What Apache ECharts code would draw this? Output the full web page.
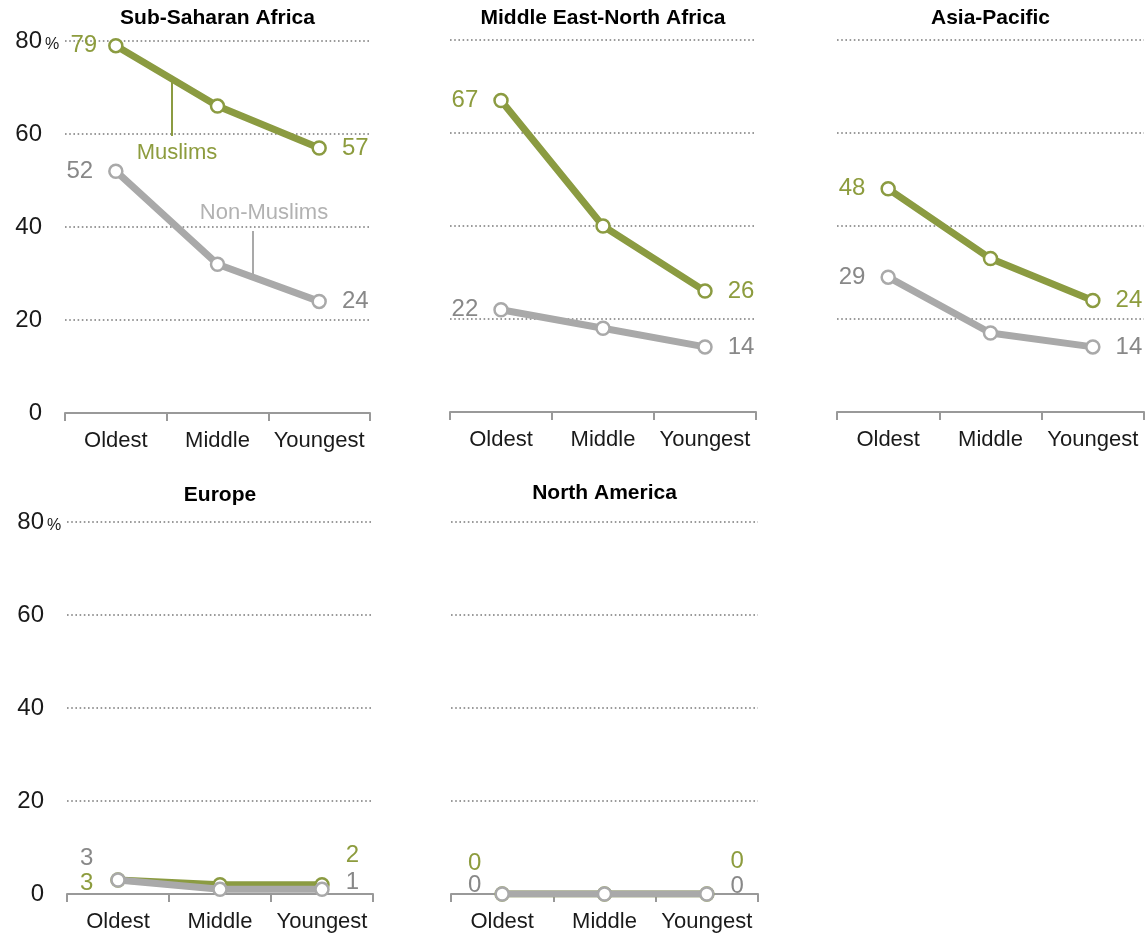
<!DOCTYPE html>
<html>
<head>
<meta charset="utf-8">
<script src="https://cdn.jsdelivr.net/npm/echarts@6/dist/echarts.min.js"></script>
<style>
    html, body { margin: 0; padding: 0; background: #ffffff; }
    #chart { width: 1145px; height: 938px; }
</style>
</head>
<body>
<div id="chart"></div>
<script>
// categories and values
const ageGroups = ['Oldest', 'Middle', 'Youngest'];
const regions = ['Sub-Saharan Africa', 'Middle East-North Africa', 'Asia-Pacific', 'Europe', 'North America'];
const yTicks = [0, 20, 40, 60, 80];

const muslimsSubSaharan = [79, 66, 57];
const nonMuslimsSubSaharan = [52, 32, 24];
const muslimsMena = [67, 40, 26];
const nonMuslimsMena = [22, 18, 14];
const muslimsAsia = [48, 33, 24];
const nonMuslimsAsia = [29, 17, 14];
const muslimsEurope = [3, 2, 2];
const nonMuslimsEurope = [3, 1, 1];
const muslimsNorthAmerica = [0, 0, 0];
const nonMuslimsNorthAmerica = [0, 0, 0];

const muslimValues = [muslimsSubSaharan, muslimsMena, muslimsAsia, muslimsEurope, muslimsNorthAmerica];
const nonMuslimValues = [nonMuslimsSubSaharan, nonMuslimsMena, nonMuslimsAsia, nonMuslimsEurope, nonMuslimsNorthAmerica];

const OLIVE = '#8b9b41';
const OLIVE_TEXT = '#8d9c3e';
const GREY = '#a9a9a9';
const GREY_TEXT = '#888888';
const FONT = '"Liberation Sans", Arial, sans-serif';

// panel boxes
const panels = [
    { left: 65, top: 41, width: 305, yLabels: true, titleTop: 8 },
    { left: 450, top: 40, width: 306, titleTop: 8 },
    { left: 837, top: 40, width: 307, titleTop: 8 },
    { left: 67, top: 522, width: 306, yLabels: true, titleTop: 485 },
    { left: 451, top: 522, width: 307, titleTop: 483 },
];
const PANEL_H = 372;

// end label placement, [first point, last point] for muslims / non-muslims
const defaultEnds = {
    m: [{ distance: 15 }, { distance: 15 }],
    n: [{ distance: 15 }, { distance: 15 }],
};
const endLabels = [
    { m: [{ distance: 11 }, { distance: 15 }], n: [{ distance: 15 }, { distance: 15 }] },
    defaultEnds,
    defaultEnds,
    {
        m: [{ distance: 17, offset: [0, 3] }, { distance: 16, offset: [0, -29] }],
        n: [{ distance: 17, offset: [0, -22] }, { distance: 16, offset: [0, -7] }],
    },
    {
        m: [{ distance: 13, offset: [0, -31] }, { distance: 16, offset: [0, -33] }],
        n: [{ distance: 13, offset: [0, -9] }, { distance: 16, offset: [0, -8] }],
    },
];

function buildData(values, ends, textColor) {
    return values.map((v, i) => {
        if (i === 0 || i === values.length - 1) {
            const cfg = ends[i === 0 ? 0 : 1];
            return {
                value: v,
                label: {
                    show: true,
                    position: i === 0 ? 'left' : 'right',
                    distance: cfg.distance,
                    offset: cfg.offset || [0, 0],
                    color: textColor,
                    fontSize: 24,
                    fontFamily: FONT,
                },
            };
        }
        return { value: v, label: { show: false } };
    });
}

const grids = [];
const xAxes = [];
const yAxes = [];
const series = [];
const titles = [];

panels.forEach((p, idx) => {
    grids.push({ left: p.left, top: p.top, width: p.width, height: PANEL_H, containLabel: false });
    titles.push({
        text: regions[idx],
        left: p.left + p.width / 2,
        top: p.titleTop,
        textAlign: 'center',
        padding: 0,
        textStyle: { fontFamily: FONT, fontWeight: 'bold', fontSize: 21, color: '#000' },
    });
    xAxes.push({
        type: 'category',
        gridIndex: idx,
        data: ageGroups,
        boundaryGap: true,
        axisLine: { lineStyle: { color: '#999', width: 2 } },
        axisTick: { show: true, interval: 0, length: 8, lineStyle: { color: '#999', width: 2 } },
        axisLabel: { interval: 0, hideOverlap: false, color: '#1a1a1a', fontSize: 22, fontFamily: FONT, margin: 17 },
        z: 3,
    });
    yAxes.push({
        type: 'value',
        gridIndex: idx,
        min: yTicks[0],
        max: yTicks[yTicks.length - 1],
        interval: 20,
        axisLine: { show: false },
        axisTick: { show: false },
        splitLine: { lineStyle: { color: '#7a7a7a', width: 1.6, type: [1.6, 2.6] } },
        axisLabel: {
            show: !!p.yLabels,
            margin: 3,
            formatter: (v) => (v === 80 ? '{v|' + v + '}{p|%}' : '{v|' + v + '}{p|}'),
            rich: {
                v: { fontSize: 24, fontFamily: FONT, color: '#1a1a1a' },
                p: { fontSize: 16, fontFamily: FONT, color: '#1a1a1a', width: 20, align: 'center', verticalAlign: 'bottom', padding: [7, 0, 0, 0] },
            },
        },
    });
    const ends = endLabels[idx];
    series.push({
        name: 'Muslims',
        type: 'line',
        xAxisIndex: idx,
        yAxisIndex: idx,
        data: buildData(muslimValues[idx], ends.m, OLIVE_TEXT),
        symbol: 'circle',
        symbolSize: 13,
        lineStyle: { color: OLIVE, width: 7 },
        itemStyle: { color: '#fff', borderColor: OLIVE, borderWidth: 2.5 },
        z: 4,
        animation: false,
    });
    series.push({
        name: 'Non-Muslims',
        type: 'line',
        xAxisIndex: idx,
        yAxisIndex: idx,
        data: buildData(nonMuslimValues[idx], ends.n, GREY_TEXT),
        symbol: 'circle',
        symbolSize: 13,
        lineStyle: { color: GREY, width: 7 },
        itemStyle: { color: '#fff', borderColor: GREY, borderWidth: 2.5 },
        z: 5,
        animation: false,
    });
});

// callout labels in the first panel
const callouts = [
    { type: 'line', shape: { x1: 172, y1: 80, x2: 172, y2: 136 }, style: { stroke: OLIVE, lineWidth: 2 } },
    { type: 'text', x: 177, y: 153, style: { text: 'Muslims', fill: OLIVE_TEXT, font: '22px ' + FONT, textAlign: 'center', textVerticalAlign: 'middle' } },
    { type: 'text', x: 264, y: 213, style: { text: 'Non-Muslims', fill: '#b2b2b2', font: '22px ' + FONT, textAlign: 'center', textVerticalAlign: 'middle' } },
    { type: 'line', shape: { x1: 253, y1: 231, x2: 253, y2: 276 }, style: { stroke: GREY, lineWidth: 2 } },
];

const chart = echarts.init(document.getElementById('chart'), null, { renderer: 'canvas' });
chart.setOption({
    backgroundColor: '#ffffff',
    animation: false,
    title: titles,
    grid: grids,
    xAxis: xAxes,
    yAxis: yAxes,
    series: series,
    graphic: callouts.map((g) => Object.assign({ z: 10 }, g)),
});
</script>
</body>
</html>
